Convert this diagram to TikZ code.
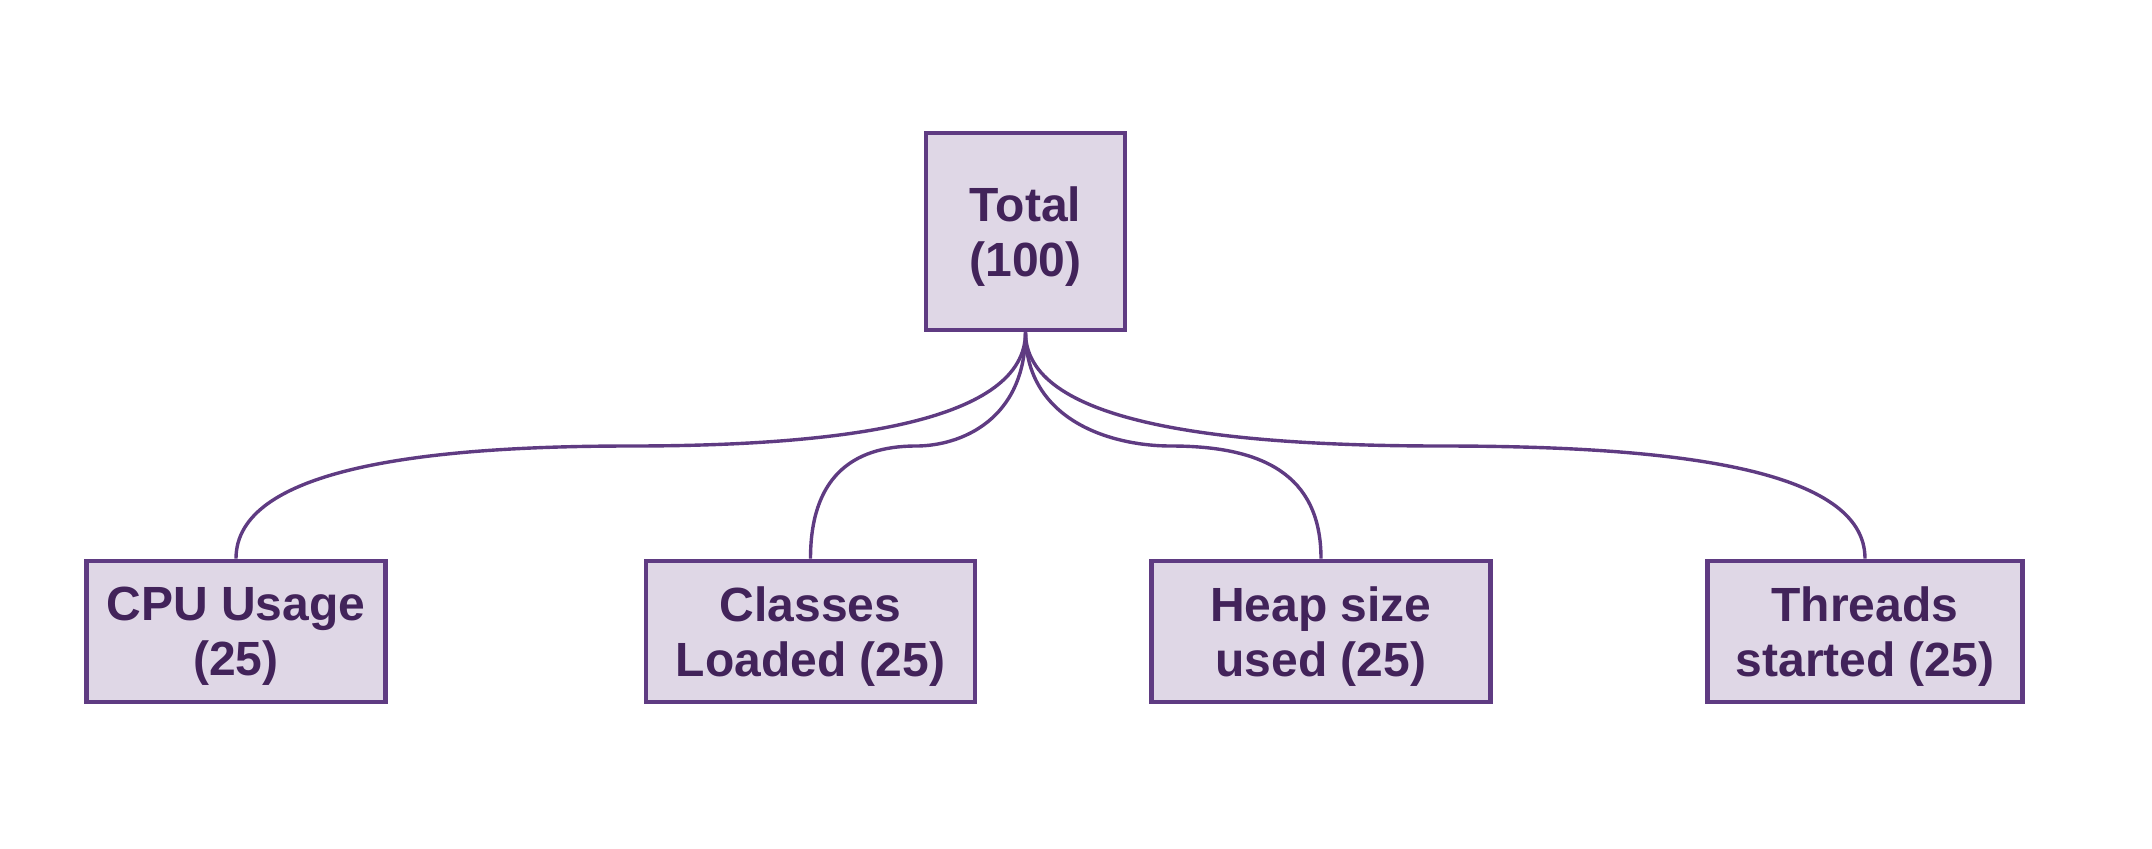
\documentclass[tikz,border=0pt]{standalone}
\usepackage{fontspec}
\setmainfont{Liberation Sans}
\definecolor{boxfill}{HTML}{DFD7E6}
\definecolor{boxline}{HTML}{5F3B82}
\definecolor{boxtext}{HTML}{42235A}
\tikzset{metric/.style={draw=boxline, line width=2.4pt, fill=boxfill, text=boxtext, font=\bfseries\fontsize{24}{27.5}\selectfont, align=center, minimum height=70.5pt, inner sep=0pt, text depth=0pt}, link/.style={draw=boxline, line width=1.7pt}}

\begin{document}
\begin{tikzpicture}[x=0.5pt,y=-0.5pt]
    \useasboundingbox (0,0) rectangle (2152,848);
    \node[metric,minimum width=99.5pt,minimum height=98.5pt] (total) at (1025.5,231.5) {Total\\(100)};
    \node[metric,minimum width=149.5pt] (cpu) at (236,631.5) {CPU Usage\\(25)};
    \node[metric,minimum width=164.5pt] (classes) at (810.5,631.5) {Classes\\Loaded (25)};
    \node[metric,minimum width=169.5pt] (heap) at (1321,631.5) {Heap size\\used (25)};
    \node[metric,minimum width=157.5pt] (threads) at (1865,631.5) {Threads\\started (25)};
    \coordinate (mcpu) at (630,446);
    \coordinate (mclasses) at (916,446);
    \coordinate (mheap) at (1171,446);
    \coordinate (mthreads) at (1443,446);
    \draw[link] (total.south) .. controls +(0,88) and +(220,0) .. (mcpu) .. controls +(-210,0) and +(0,-89) .. (cpu.north);
    \draw[link] (total.south) .. controls +(0,88) and +(44,0) .. (mclasses) .. controls +(-66,0) and +(0,-79) .. (classes.north);
    \draw[link] (total.south) .. controls +(0,88) and +(-60,0) .. (mheap) .. controls +(90,0) and +(0,-85) .. (heap.north);
    \draw[link] (total.south) .. controls +(0,88) and +(-235,0) .. (mthreads) .. controls +(235,0) and +(0,-89) .. (threads.north);
\end{tikzpicture}
\end{document}
